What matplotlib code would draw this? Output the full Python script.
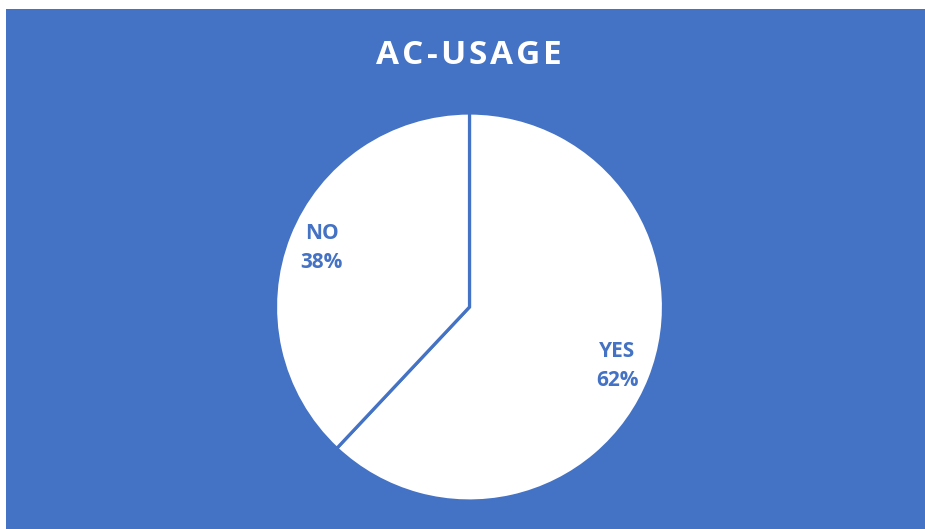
import matplotlib
matplotlib.use("Agg")
import matplotlib.pyplot as plt
from matplotlib.patches import Rectangle

# data
labels = ["YES", "NO"]
shares = [62, 38]
title = "AC-USAGE"

blue = "#4472C4"
W, H = 925, 529

fig = plt.figure(figsize=(W / 100, H / 100), dpi=100)
fig.patch.set_facecolor("white")

# blue chart area (small white margin at left and top)
fig.patches.append(Rectangle((6 / W, 0), 1 - 6 / W, 1 - 9 / H,
                             transform=fig.transFigure, facecolor=blue,
                             edgecolor="none", zorder=-5))

# pie axes, centered at (469.5, 307) px with radius 194 px
r = 194
cx, cy = 469.5, 307
ax = fig.add_axes([(cx - r) / W, 1 - (cy + r) / H, 2 * r / W, 2 * r / H])
ax.set_axis_off()

texts = [f"{l}\n{s}%" for l, s in zip(labels, shares)]
wedges, lbls = ax.pie(shares, labels=texts, startangle=90, counterclock=False,
                      labeldistance=0.82, radius=1,
                      colors=["white", "white"],
                      wedgeprops=dict(edgecolor=blue, linewidth=2.3),
                      textprops=dict(color=blue, fontsize=15, fontweight="bold",
                                     family="Open Sans", linespacing=1.5))
for t in lbls:
    t.set_horizontalalignment("center")
    t.set_verticalalignment("center")
ax.set_xlim(-1, 1)
ax.set_ylim(-1, 1)
ax.set_aspect("equal")

# title with letter spacing: place each character separately
renderer = fig.canvas.get_renderer()
tracking = 3.0  # px between letters
chars = []
widths = []
for ch in title:
    t = fig.text(0, 0, ch, color="white", fontsize=24, fontweight="bold",
                 family="Open Sans", ha="left", va="center")
    chars.append(t)
    widths.append(t.get_window_extent(renderer).width)
total = sum(widths) + tracking * (len(title) - 1)
x = 469 - total / 2
for t, w in zip(chars, widths):
    t.set_position((x / W, 1 - 56 / H))
    x += w + tracking

fig.savefig("out.png", dpi=100)
